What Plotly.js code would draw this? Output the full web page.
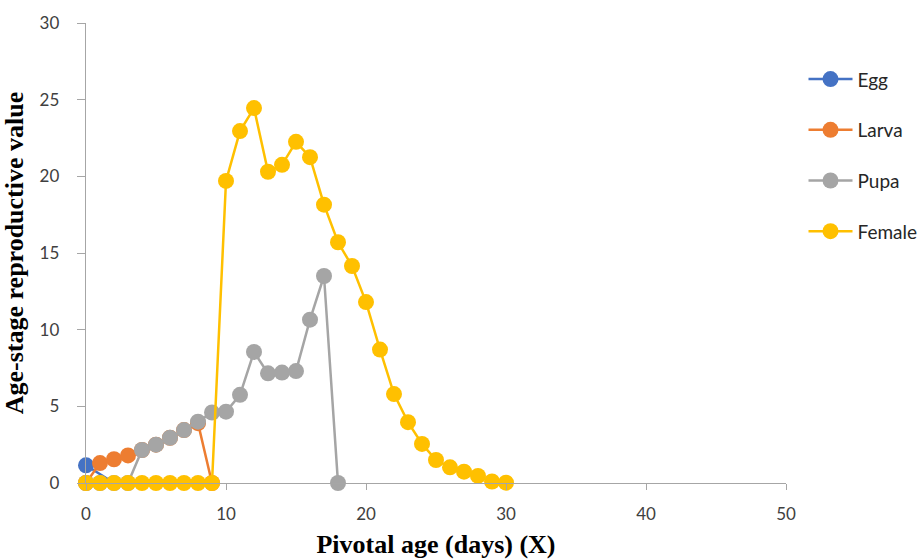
<!DOCTYPE html>
<html>
<head>
<meta charset="utf-8">
<script src="https://cdn.plot.ly/plotly-3.0.1.min.js"></script>
<style>html,body{margin:0;padding:0;background:#fff;}#chart{width:921px;height:559px;}</style>
</head>
<body>
<div id="chart"></div>
<script>
// Pivotal age (days) per stage
var eggAge = [0, 1, 2];
var eggValue = [1.15, 0.57, 0];

var larvaAge = [0, 1, 2, 3, 4, 5, 6, 7, 8, 9];
var larvaValue = [0, 1.3, 1.55, 1.8, 2.15, 2.5, 2.95, 3.45, 3.9, 0];

var pupaAge = [0, 1, 2, 3, 4, 5, 6, 7, 8, 9, 10, 11, 12, 13, 14, 15, 16, 17, 18];
var pupaValue = [0, 0, 0, 0, 2.15, 2.5, 2.95, 3.45, 4.0, 4.6, 4.65, 5.75, 8.55, 7.15, 7.2, 7.3, 10.65, 13.5, 0];

var femaleAge = [0, 1, 2, 3, 4, 5, 6, 7, 8, 9, 10, 11, 12, 13, 14, 15, 16, 17, 18, 19, 20, 21, 22, 23, 24, 25, 26, 27, 28, 29, 30];
var femaleValue = [0, 0, 0, 0, 0, 0, 0, 0, 0, 0, 19.7, 22.95, 24.45, 20.3, 20.75, 22.25, 21.25, 18.15, 15.7, 14.15, 11.8, 8.7, 5.8, 3.97, 2.55, 1.5, 1.02, 0.74, 0.46, 0.1, 0.02];

var seriesNames = ['Egg', 'Larva', 'Pupa', 'Female'];
var seriesColors = ['#4472C4', '#ED7D31', '#A5A5A5', '#FFC000'];

var xTickVals = [0, 10, 20, 30, 40, 50];
var yTickVals = [0, 5, 10, 15, 20, 25, 30];

var xs = [eggAge, larvaAge, pupaAge, femaleAge];
var ys = [eggValue, larvaValue, pupaValue, femaleValue];

var traces = [];
seriesNames.forEach(function (n, i) {
  if (n === 'Egg') {
    // egg line (no markers beyond the first point in the reference)
    traces.push({
      type: 'scatter', mode: 'lines', name: n, legendgroup: n, showlegend: false,
      x: xs[i], y: ys[i], cliponaxis: false,
      line: {color: seriesColors[i], width: 2.5}
    });
    traces.push({
      type: 'scatter', mode: 'lines+markers', name: n, legendgroup: n,
      x: xs[i].slice(0, 1), y: ys[i].slice(0, 1), cliponaxis: false,
      line: {color: seriesColors[i], width: 2.5},
      marker: {color: seriesColors[i], size: 16}
    });
    return;
  }
  traces.push({
    type: 'scatter',
    mode: 'lines+markers',
    name: n,
    legendgroup: n,
    x: xs[i],
    y: ys[i],
    cliponaxis: false,
    line: {color: seriesColors[i], width: 2.5},
    marker: {color: seriesColors[i], size: 16}
  });
});

var tickFont = {family: 'Lato, "Liberation Sans", sans-serif', size: 17, color: '#404040'};
var titleFont = {family: '"Liberation Serif", "Times New Roman", serif', size: 26, color: '#000', weight: 'bold'};

var layout = {
  width: 921,
  height: 559,
  paper_bgcolor: '#ffffff',
  plot_bgcolor: '#ffffff',
  margin: {l: 86, r: 135, t: 23, b: 76, pad: 0, autoexpand: false},
  showlegend: true,
  legend: {
    x: 1.025, y: 0.919, xanchor: 'left', yanchor: 'top',
    font: {family: 'Lato, "Liberation Sans", sans-serif', size: 19, color: '#262626'},
    tracegroupgap: 23,
    itemwidth: 44,
    bgcolor: 'rgba(0,0,0,0)'
  },
  xaxis: {
    range: [0, 50],
    tickvals: xTickVals,
    ticktext: xTickVals.map(String),
    showgrid: false,
    zeroline: false,
    showline: true,
    linecolor: '#A6A6A6',
    linewidth: 1.3,
    ticks: 'outside',
    ticklen: 6,
    tickcolor: '#A6A6A6',
    ticklabelstandoff: 9,
    tickfont: tickFont,
    title: {text: 'Pivotal age (days) (X)', font: titleFont, standoff: 13}
  },
  yaxis: {
    range: [0, 30],
    tickvals: yTickVals,
    ticktext: yTickVals.map(String),
    showgrid: false,
    zeroline: false,
    showline: true,
    linecolor: '#A6A6A6',
    linewidth: 1.3,
    ticks: 'outside',
    ticklen: 8,
    tickcolor: '#A6A6A6',
    ticklabelstandoff: 14,
    tickfont: tickFont,
    title: {text: 'Age-stage reproductive value', font: titleFont, standoff: 8}
  }
};

Plotly.newPlot('chart', traces, layout, {displayModeBar: false, staticPlot: true});
</script>
</body>
</html>
